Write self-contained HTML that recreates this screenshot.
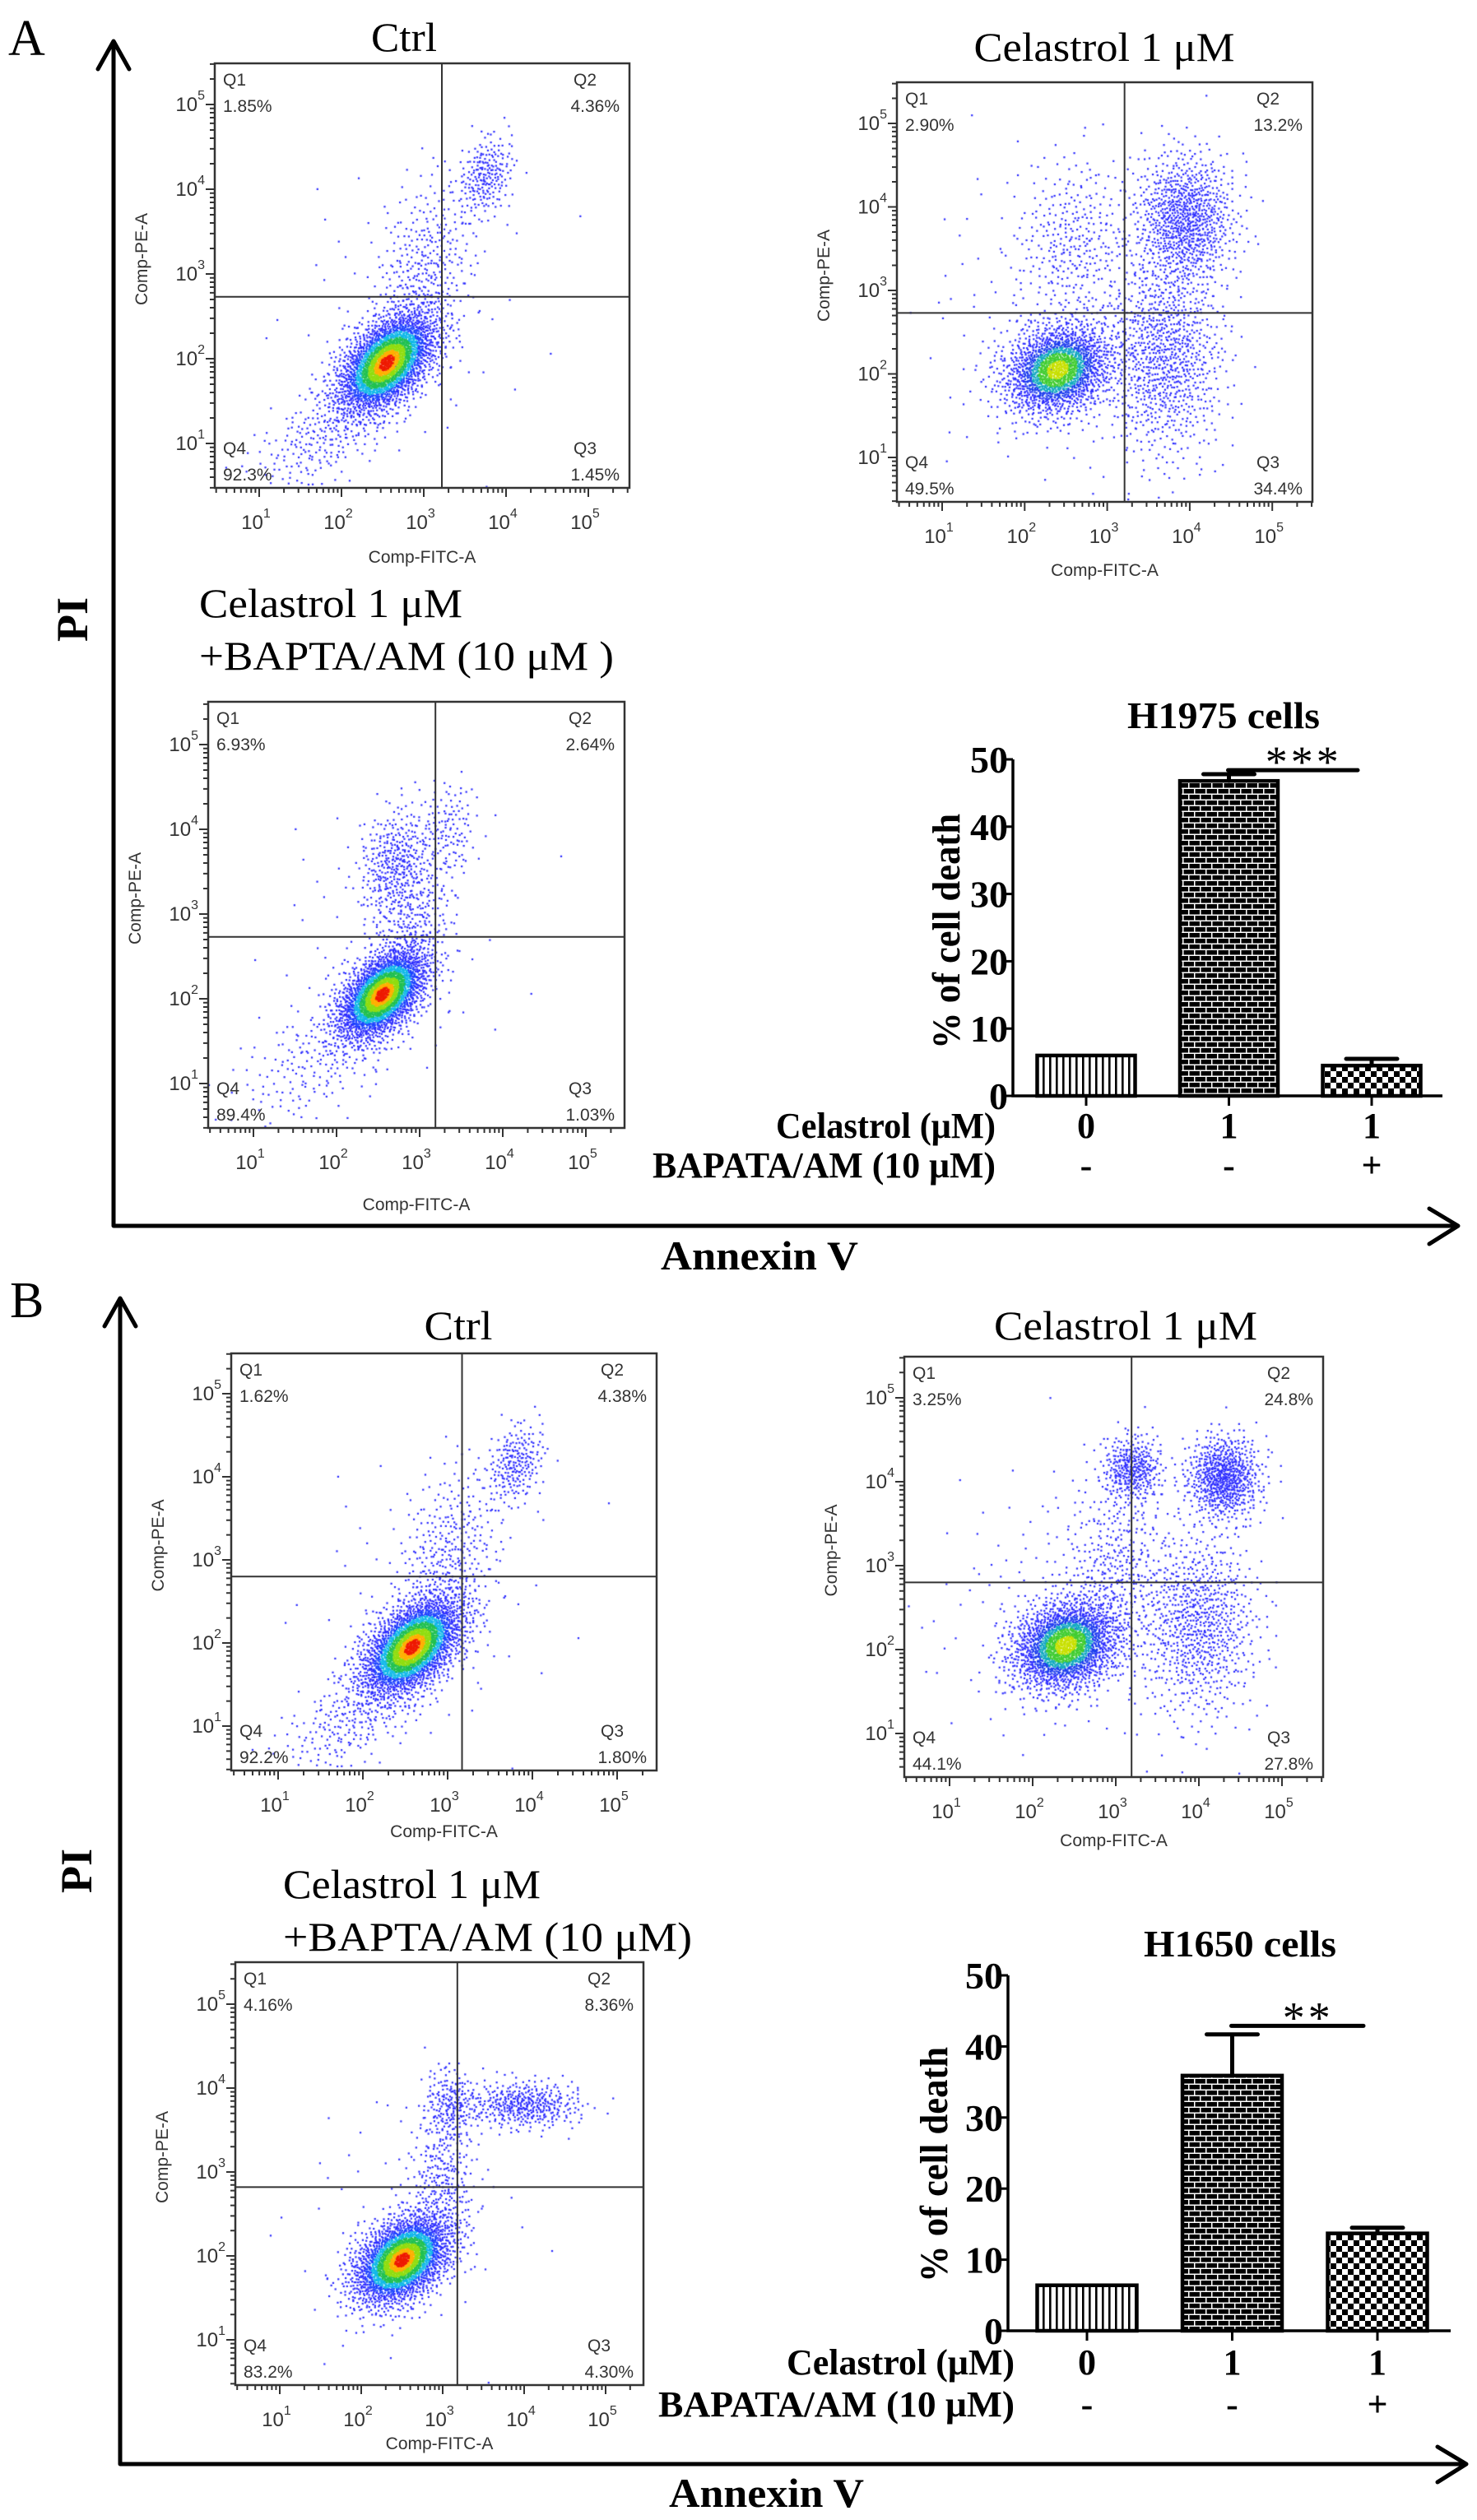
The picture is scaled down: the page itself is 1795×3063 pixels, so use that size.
<!DOCTYPE html>
<html><head><meta charset="utf-8"><style>
html,body{margin:0;padding:0;background:#fff}
#wrap{position:relative;width:1795px;height:3063px;overflow:hidden;background:#fff}
#dots,#fig{position:absolute;left:0;top:0}
</style></head><body>
<div id="wrap">
<canvas id="dots" width="1795" height="3063"></canvas>
<svg id="fig" width="1795" height="3063" viewBox="0 0 1795 3063" xmlns="http://www.w3.org/2000/svg">
<defs>
<pattern id="pStripe" width="8" height="10" patternUnits="userSpaceOnUse"><rect width="8" height="10" fill="#fff"/><rect x="3" width="2.6" height="10" fill="#000"/></pattern>
<pattern id="pBrick" width="14" height="14" patternUnits="userSpaceOnUse"><rect width="14" height="14" fill="#000"/><rect y="5.5" width="14" height="1.5" fill="#fff"/><rect y="12.5" width="14" height="1.5" fill="#fff"/><rect x="2" y="0" width="1.5" height="6" fill="#fff"/><rect x="9" y="7" width="1.5" height="6" fill="#fff"/></pattern>
<pattern id="pCheck" width="14" height="14" patternUnits="userSpaceOnUse"><rect width="14" height="14" fill="#fff"/><rect width="7" height="7" fill="#000"/><rect x="7" y="7" width="7" height="7" fill="#000"/></pattern>
</defs>
<g id="static">
<text x="10" y="67" font-family="Liberation Serif, serif" font-size="62">A</text>
<text x="12" y="1601" font-family="Liberation Serif, serif" font-size="62">B</text>
<text transform="translate(106,753) rotate(-90)" text-anchor="middle" font-family="Liberation Serif, serif" font-weight="bold" font-size="54">PI</text>
<text transform="translate(111,2274) rotate(-90)" text-anchor="middle" font-family="Liberation Serif, serif" font-weight="bold" font-size="54">PI</text>
<text x="803" y="1543" font-family="Liberation Serif, serif" font-weight="bold" font-size="50" textLength="240" lengthAdjust="spacingAndGlyphs">Annexin V</text>
<text x="813" y="3047" font-family="Liberation Serif, serif" font-weight="bold" font-size="50" textLength="237" lengthAdjust="spacingAndGlyphs">Annexin V</text>
<g fill="none" stroke="#000" stroke-width="5" stroke-linecap="round" stroke-linejoin="round">
<polyline points="138,52 138,1490 1770,1490"/>
<polyline points="119,84 138,50 157,84"/>
<polyline points="1737,1469 1772,1490 1737,1512"/>
<polyline points="146,1580 146,2995 1780,2995"/>
<polyline points="127,1612 146,1578 165,1612"/>
<polyline points="1747,2974 1782,2995 1747,3017"/>
</g>
<g font-family="Liberation Serif, serif" font-size="50">
<text x="491" y="62" text-anchor="middle" textLength="80" lengthAdjust="spacingAndGlyphs">Ctrl</text>
<text x="1342" y="74" text-anchor="middle" textLength="317" lengthAdjust="spacingAndGlyphs">Celastrol 1 μM</text>
<text x="242" y="750" textLength="320" lengthAdjust="spacingAndGlyphs">Celastrol 1 μM</text>
<text x="242" y="814" textLength="504" lengthAdjust="spacingAndGlyphs">+BAPTA/AM (10 μM )</text>
<text x="557" y="1628" text-anchor="middle" textLength="83" lengthAdjust="spacingAndGlyphs">Ctrl</text>
<text x="1368" y="1628" text-anchor="middle" textLength="320" lengthAdjust="spacingAndGlyphs">Celastrol 1 μM</text>
<text x="344" y="2307" textLength="313" lengthAdjust="spacingAndGlyphs">Celastrol 1 μM</text>
<text x="344" y="2371" textLength="497" lengthAdjust="spacingAndGlyphs">+BAPTA/AM (10 μM)</text>
</g>
</g>
<g id="plots"></g>
</svg>
</div>
<script>
// ---------- Flow cytometry data (log10 units) ----------
// quadrant percentages [Q1, Q2, Q3, Q4]
const qA_ctrl = ["1.85%", "4.36%", "1.45%", "92.3%"];
const qA_cel  = ["2.90%", "13.2%", "34.4%", "49.5%"];
const qA_bap  = ["6.93%", "2.64%", "1.03%", "89.4%"];
const qB_ctrl = ["1.62%", "4.38%", "1.80%", "92.2%"];
const qB_cel  = ["3.25%", "24.8%", "27.8%", "44.1%"];
const qB_bap  = ["4.16%", "8.36%", "4.30%", "83.2%"];
// gate positions [logX, logY]
const gA_ctrl = [3.22, 2.73];
const gA_cel  = [3.21, 2.73];
const gA_bap  = [3.19, 2.73];
const gB_ctrl = [3.17, 2.80];
const gB_cel  = [3.19, 2.80];
const gB_bap  = [3.18, 2.82];
// populations: [meanLogX, meanLogY, sdX, sdY, corr, count, heat]
const popA_ctrl = [[2.55,1.95,0.3,0.3,0.5,2600,2],[3.75,4.15,0.17,0.25,0.3,220,0],[3.0,3.0,0.3,0.55,0.3,350,0],[1.8,1.1,0.45,0.35,0.6,250,0],[2.8,2.6,0.8,0.9,0,70,0]];
const popA_cel  = [[2.4,2.05,0.32,0.27,0.2,1800,1],[3.95,3.85,0.3,0.4,0,900,0],[3.7,2.2,0.35,0.6,0,900,0],[2.6,3.6,0.35,0.5,0,300,0],[2.5,2.5,0.9,0.9,0,200,0]];
const popA_bap  = [[2.55,2.05,0.27,0.27,0.5,2400,2],[2.7,3.6,0.22,0.32,0.2,350,0],[3.35,4.0,0.18,0.3,0,120,0],[2.9,2.9,0.25,0.4,0.3,250,0],[1.8,1.3,0.5,0.4,0.5,200,0],[2.6,2.6,0.8,0.9,0,60,0]];
const popB_ctrl = [[2.58,1.95,0.3,0.3,0.5,2600,2],[3.8,4.15,0.17,0.25,0.3,220,0],[3.0,3.0,0.3,0.55,0.3,350,0],[1.9,1.1,0.45,0.35,0.6,250,0],[2.8,2.6,0.8,0.9,0,70,0]];
const popB_cel  = [[2.4,2.05,0.32,0.27,0.2,2000,1],[3.2,4.15,0.18,0.2,0,350,0],[4.3,4.05,0.22,0.25,0,700,0],[4.0,2.3,0.35,0.55,0,800,0],[3.0,3.0,0.3,0.5,0,300,0],[2.5,2.5,0.9,0.9,0,200,0]];
const popB_bap  = [[2.5,1.95,0.3,0.27,0.4,2500,2],[4.0,3.8,0.35,0.14,0,400,0],[3.1,3.8,0.17,0.22,0,200,0],[3.0,2.9,0.2,0.4,0,250,0],[2.6,2.6,0.8,0.9,0,60,0]];
// ---------- Bar chart data ----------
const barCats = ["0", "1", "1"];
const barBapta = ["-", "-", "+"];
const yTicks = [0, 10, 20, 30, 40, 50];
const h1975Vals = [6.0, 46.8, 4.5];
const h1975Err  = [0, 1.0, 1.0];
const h1975Sig = 48.4;
const h1650Vals = [6.4, 35.9, 13.7];
const h1650Err  = [0.0, 5.8, 0.8];
const h1650Sig = 42.9;

const NS = 'http://www.w3.org/2000/svg';
const plotsG = document.getElementById('plots');
const ctx = document.getElementById('dots').getContext('2d');
function mk(tag, attrs, parent) {
  const e = document.createElementNS(NS, tag);
  for (const k in attrs) e.setAttribute(k, attrs[k]);
  parent.appendChild(e);
  return e;
}
function halton(i, b) { let f = 1, r = 0; while (i > 0) { f /= b; r += f * (i % b); i = Math.floor(i / b); } return r; }

function flowPlot(L, quads, gate, pops, key) {
  const g = mk('g', {}, plotsG);
  
  
  const X = v => L.xd1 + (v - 1) * L.xs;
  const Y = v => L.yd1 - (v - 1) * L.ys;
  ctx.save();
  ctx.beginPath(); ctx.rect(L.x0, L.y0, L.x1 - L.x0, L.y1 - L.y0); ctx.clip();
  let idx = 1 + key.length * 97;
  const pts = [];
  pops.forEach(p => {
    for (let k = 0; k < p[5]; k++) {
      idx++;
      const u1 = Math.max(1e-6, halton(idx, 2)), u2 = halton(idx, 3);
      const rr = Math.sqrt(-2 * Math.log(u1));
      const z1 = rr * Math.cos(2 * Math.PI * u2), z2 = rr * Math.sin(2 * Math.PI * u2);
      const zx = z1, zy = p[4] * z1 + Math.sqrt(1 - p[4] * p[4]) * z2;
      const d = Math.sqrt(z1 * z1 + z2 * z2);
      pts.push([X(p[0] + zx * p[2]), Y(p[1] + zy * p[3]), p[6] ? d : 9, p[6]]);
    }
  });
  pts.sort((a, b) => b[2] - a[2]);
  pts.forEach(q => {
    let c = '#2a2aff';
    const d = q[2];
    if (q[3] === 2) {
      if (d < 0.3) c = '#ee1a00'; else if (d < 0.5) c = '#ffb000'; else if (d < 0.75) c = '#90dd10';
      else if (d < 1.0) c = '#20c050'; else if (d < 1.25) c = '#10b8e8'; else if (d < 1.5) c = '#1a40ff';
    } else if (q[3] === 1) {
      if (d < 0.4) c = '#c8e000'; else if (d < 0.75) c = '#40cc30'; else if (d < 1.0) c = '#10a8c0'; else if (d < 1.3) c = '#1a3aee';
    }
    ctx.fillStyle = c;
    ctx.fillRect(q[0] - 1, q[1] - 1, 2.2, 2.2);
  });
  ctx.restore();
  const fr = mk('rect', {x: L.x0, y: L.y0, width: L.x1 - L.x0, height: L.y1 - L.y0, fill: 'none', stroke: '#333', 'stroke-width': 2.5}, g);
  
  
  const gv = mk('line', {x1: X(gate[0]), x2: X(gate[0]), y1: L.y0, y2: L.y1, stroke: '#333', 'stroke-width': 2}, g);
  
  
  const gh = mk('line', {x1: L.x0, x2: L.x1, y1: Y(gate[1]), y2: Y(gate[1]), stroke: '#333', 'stroke-width': 2}, g);
  
  
  let tp = '';
  for (let d = 0; d <= 5; d++) for (let m = 1; m <= 9; m++) {
    const lv = d + Math.log10(m), len = m === 1 ? 11 : 6;
    const tx = X(lv), ty = Y(lv);
    if (tx >= L.x0 && tx <= L.x1) tp += `M${tx},${L.y1}v${len}`;
    if (ty >= L.y0 && ty <= L.y1) tp += `M${L.x0},${ty}h${-len}`;
  }
  const tk = mk('path', {d: tp, stroke: '#333', 'stroke-width': 2, fill: 'none'}, g);
  
  
  for (let d = 1; d <= 5; d++) {
    const xl = mk('text', {x: X(d) - 4, y: L.y1 + 50, 'text-anchor': 'middle', 'font-family': 'Liberation Sans, sans-serif', 'font-size': 24, fill: '#333'}, g);
    
    
    xl.innerHTML = '10<tspan dy="-14" font-size="16">' + d + '</tspan>';
    const yl = mk('text', {x: L.x0 - 12, y: Y(d) + 8, 'text-anchor': 'end', 'font-family': 'Liberation Sans, sans-serif', 'font-size': 24, fill: '#333'}, g);
    
    
    yl.innerHTML = '10<tspan dy="-14" font-size="16">' + d + '</tspan>';
  }
  const xt = mk('text', {x: (L.x0 + L.x1) / 2, y: L.y1 + L.fl, 'text-anchor': 'middle', 'font-family': 'Liberation Sans, sans-serif', 'font-size': 21, fill: '#333'}, g);
  
  
  xt.textContent = 'Comp-FITC-A';
  const yt = mk('text', {transform: `translate(${L.x0 - 82},${(L.y0 + L.y1) / 2 - 20}) rotate(-90)`, 'text-anchor': 'middle', 'font-family': 'Liberation Sans, sans-serif', 'font-size': 21, fill: '#333'}, g);
  
  
  yt.textContent = 'Comp-PE-A';
  const qn = ['Q1', 'Q2', 'Q3', 'Q4'];
  const qy = [L.y0 + 27, L.y0 + 27, L.y1 - 41, L.y1 - 41];
  for (let i = 0; i < 4; i++) {
    const right = (i === 1 || i === 2);
    const q1 = mk('text', {x: right ? L.x1 - 68 : L.x0 + 10, y: qy[i], 'font-family': 'Liberation Sans, sans-serif', 'font-size': 21, fill: '#333'}, g);
    
    
    q1.textContent = qn[i];
    const q2 = mk('text', {x: right ? L.x1 - 12 : L.x0 + 10, y: qy[i] + 32, 'text-anchor': right ? 'end' : 'start', 'font-family': 'Liberation Sans, sans-serif', 'font-size': 21, fill: '#333'}, g);
    
    
    q2.textContent = quads[i];
  }
}

flowPlot({x0:261,x1:765,y0:77,y1:593,xd1:315,xs:100,yd1:539,ys:103,fl:91}, qA_ctrl, gA_ctrl, popA_ctrl, 'a-ctrl');
flowPlot({x0:1090,x1:1595,y0:100,y1:610,xd1:1145,xs:100.3,yd1:556,ys:101.5,fl:90}, qA_cel, gA_cel, popA_cel, 'a-celastrol');
flowPlot({x0:253,x1:759,y0:853,y1:1371,xd1:308,xs:101,yd1:1317,ys:103,fl:100}, qA_bap, gA_bap, popA_bap, 'a-bapta');
flowPlot({x0:281,x1:798,y0:1645,y1:2152,xd1:338,xs:103,yd1:2098,ys:101,fl:81}, qB_ctrl, gB_ctrl, popB_ctrl, 'b-ctrl');
flowPlot({x0:1099,x1:1608,y0:1649,y1:2160,xd1:1154,xs:101,yd1:2107,ys:102,fl:84}, qB_cel, gB_cel, popB_cel, 'b-celastrol');
flowPlot({x0:286,x1:782,y0:2385,y1:2899,xd1:340,xs:99,yd1:2844,ys:102,fl:78}, qB_bap, gB_bap, popB_bap, 'b-bapta');

function barChart(L, vals, errs, sig, stars, title, key) {
  const g = mk('g', {}, plotsG);
  
  
  const Y = v => L.y0 - v * (L.y0 - L.y50) / 50;
  const Xc = i => L.ax + L.off + i * L.step;
  const F = 'Liberation Serif, serif';
  const pats = ['url(#pStripe)', 'url(#pBrick)', 'url(#pCheck)'];
  vals.forEach((v, i) => {
    const b = mk('rect', {x: Xc(i) - L.bw / 2, y: Y(v), width: L.bw, height: L.y0 - Y(v), fill: pats[i], stroke: '#000', 'stroke-width': 4.5}, g);
    
    
    if (errs[i] > 0) {
      const e = mk('path', {d: `M${Xc(i)},${Y(v)}V${Y(v + errs[i])}M${Xc(i) - 31},${Y(v + errs[i])}h62`, stroke: '#000', 'stroke-width': 5, fill: 'none', 'stroke-linecap': 'round'}, g);
      
      
    }
    const tk = mk('line', {x1: Xc(i), x2: Xc(i), y1: L.y0, y2: L.y0 + 12, stroke: '#000', 'stroke-width': 3}, g);
    
    
    const c1 = mk('text', {x: Xc(i), y: L.r1, 'text-anchor': 'middle', 'font-family': F, 'font-weight': 'bold', 'font-size': 44}, g);
    
    
    c1.textContent = barCats[i];
    const c2 = mk('text', {x: Xc(i), y: L.r2, 'text-anchor': 'middle', 'font-family': F, 'font-weight': 'bold', 'font-size': 44}, g);
    
    
    c2.textContent = barBapta[i];
  });
  const ax = mk('path', {d: `M${L.ax},${Y(50)}V${L.y0}H${L.xe}`, stroke: '#000', 'stroke-width': 3.5, fill: 'none'}, g);
  
  
  yTicks.forEach(t => {
    const tl = mk('line', {x1: L.ax - 9, x2: L.ax, y1: Y(t), y2: Y(t), stroke: '#000', 'stroke-width': 3}, g);
    
    
    const tt = mk('text', {x: L.ax - 6, y: Y(t) + 16, 'text-anchor': 'end', 'font-family': F, 'font-weight': 'bold', 'font-size': 46}, g);
    
    
    tt.textContent = t;
  });
  const sl = mk('line', {x1: Xc(1) - 1, x2: Xc(2) - 17, y1: Y(sig), y2: Y(sig), stroke: '#000', 'stroke-width': 5, 'stroke-linecap': 'round'}, g);
  
  
  const st = mk('text', {x: (Xc(1) + Xc(2)) / 2 + 4, y: Y(sig) + 8, 'text-anchor': 'middle', 'font-family': 'Liberation Serif, serif', 'font-size': 54, 'letter-spacing': 4}, g);
  
  
  st.textContent = stars;
  const ti = mk('text', {x: L.tx, y: L.ty, 'text-anchor': 'middle', 'font-family': F, 'font-weight': 'bold', 'font-size': 46, textLength: 234, lengthAdjust: 'spacingAndGlyphs'}, g);
  
  
  ti.textContent = title;
  const yt = mk('text', {transform: `translate(${L.ytx},${L.yty}) rotate(-90)`, 'text-anchor': 'middle', 'font-family': F, 'font-weight': 'bold', 'font-size': 48, textLength: 286, lengthAdjust: 'spacingAndGlyphs'}, g);
  
  
  yt.textContent = '% of cell death';
  const r1 = mk('text', {x: L.rx - L.w1, y: L.r1, 'font-family': F, 'font-weight': 'bold', 'font-size': 44, textLength: L.w1, lengthAdjust: 'spacingAndGlyphs'}, g);
  
  
  r1.textContent = 'Celastrol (μM)';
  const r2 = mk('text', {x: L.rx - L.w2, y: L.r2, 'font-family': F, 'font-weight': 'bold', 'font-size': 44, textLength: L.w2, lengthAdjust: 'spacingAndGlyphs'}, g);
  
  
  r2.textContent = 'BAPATA/AM (10 μM)';
}
barChart({ax:1231,y0:1332,y50:923,xe:1753,off:89,step:173.5,bw:119,r1:1383,r2:1431,rx:1210,w1:267,w2:417,tx:1487,ty:885,ytx:1166,yty:1132}, h1975Vals, h1975Err, h1975Sig, '***', 'H1975 cells', 'h1975');
barChart({ax:1225,y0:2833,y50:2401,xe:1763,off:96,step:176.5,bw:121,r1:2886,r2:2937,rx:1233,w1:277,w2:433,tx:1507,ty:2378,ytx:1151,yty:2631}, h1650Vals, h1650Err, h1650Sig, '**', 'H1650 cells', 'h1650');
</script>
</body></html>
